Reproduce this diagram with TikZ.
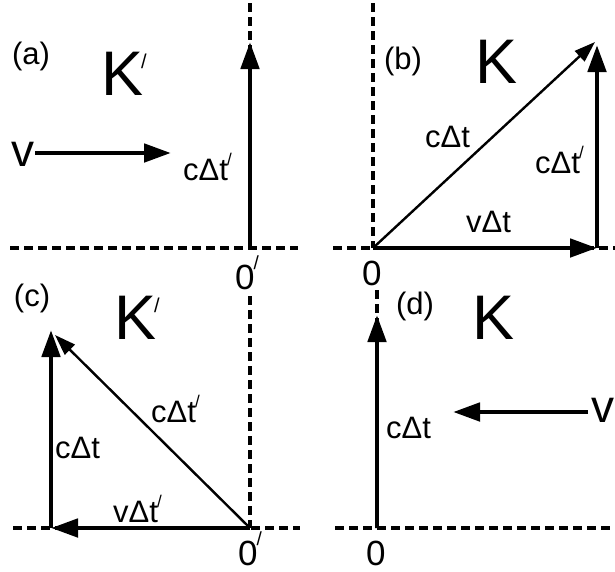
\documentclass[tikz,border=0pt]{standalone}
\usepackage{fontspec}
\setmainfont{Liberation Sans}
\usetikzlibrary{arrows.meta}
\newcommand{\lpr}{\kern-1pt\raisebox{15pt}{\fontsize{17}{17}\selectfont /}}
\newcommand{\zpr}{\kern-1pt\raisebox{20pt}{\fontsize{19}{19}\selectfont /}}
\newcommand{\kpr}{\rlap{\kern-3pt\raisebox{27pt}{\fontsize{20}{20}\selectfont /}}}
\begin{document}
\begin{tikzpicture}[x=1pt,y=-1pt,
  axis/.style={line width=3.6pt,dash pattern=on 9pt off 5pt},
  thick arrow/.style={line width=4.8pt,-{Triangle[length=27pt,width=18pt]}},
  thin arrow/.style={line width=2.4pt,-{Triangle[length=21pt,width=14pt]}},
  lbl/.style={inner sep=0pt,anchor=base west,font=\fontsize{31}{33}\selectfont},
  tag/.style={inner sep=0pt,font=\fontsize{31}{34}\selectfont},
  zero/.style={inner sep=0pt,anchor=base west,font=\fontsize{35}{38}\selectfont},
  frame/.style={inner sep=0pt,font=\fontsize{63}{66}\selectfont},
  vel/.style={inner sep=0pt,font=\fontsize{46}{50}\selectfont}]
\useasboundingbox (0,0) rectangle (615,571);
% ---------- (a)
\coordinate (aO) at (250,248);
\coordinate (aT) at (250,3);
\coordinate (aL) at (10,248);
\coordinate (aR) at (298,248);
\coordinate (aTip) at (250,42);
\draw[axis] (aL) -- (aR);
\draw[axis] (aT) -- (aO);
\draw[thick arrow] (aO) -- (aTip);
\node[tag] (atag) at (31,56) {(a)};
\node[frame] (aK) at (123,74) {K\kpr};
\node[vel] (av) at (22.5,154) {v};
\coordinate (avs) at (35,153);
\coordinate (ave) at (171,153);
\draw[thick arrow] (avs) -- (ave);
\node[lbl] (acdt) at (183,180) {cΔt\lpr};
\node[zero] (a0) at (235,289) {0\zpr};
% ---------- (b)
\coordinate (bO) at (373,248);
\coordinate (bT) at (373,3);
\coordinate (bL) at (333,248);
\coordinate (bR) at (615,248);
\coordinate (bX) at (597,248);
\coordinate (bY) at (597,45);
\coordinate (bD) at (595,42);
\draw[axis] (bL) -- (bR);
\draw[axis] (bT) -- (bO);
\draw[thick arrow] (bO) -- (bX);
\draw[thick arrow] (bX) -- (bY);
\draw[thin arrow] (bO) -- (bD);
\node[tag] (btag) at (403,61) {(b)};
\node[frame] (bK) at (497,62) {K};
\node[lbl] (bcdt) at (425,147) {cΔt};
\node[lbl] (bcdtp) at (535,173) {cΔt\lpr};
\node[lbl] (bvdt) at (466,232) {vΔt};
\node[zero] (b0) at (362,285) {0};
% ---------- (c)
\coordinate (cO) at (250,528);
\coordinate (cT) at (250,296);
\coordinate (cL) at (13,528);
\coordinate (cR) at (300,528);
\coordinate (cX) at (51,528);
\coordinate (cY) at (51,330);
\coordinate (cD) at (55,335);
\draw[axis] (cL) -- (cR);
\draw[axis] (cT) -- (cO);
\draw[thick arrow] (cO) -- (cX);
\draw[thick arrow] (cX) -- (cY);
\draw[thin arrow] (cO) -- (cD);
\node[tag] (ctag) at (32,298) {(c)};
\node[frame] (cK) at (136,318) {K\kpr};
\node[lbl] (ccdtp) at (151,422) {cΔt\lpr};
\node[lbl] (ccdt) at (55,458) {cΔt};
\node[lbl] (cvdt) at (113,522) {vΔt\lpr};
\node[zero] (c0) at (238,565) {0\zpr};
% ---------- (d)
\coordinate (dO) at (377,528);
\coordinate (dT) at (377,290);
\coordinate (dL) at (335,528);
\coordinate (dR) at (615,528);
\coordinate (dTip) at (377,315);
\draw[axis] (dL) -- (dR);
\draw[axis] (dT) -- (dO);
\draw[thick arrow] (dO) -- (dTip);
\node[tag] (dtag) at (415,306) {(d)};
\node[frame] (dK) at (494,318) {K};
\node[vel] (dv) at (603,410.5) {v};
\coordinate (dvs) at (588,412);
\coordinate (dve) at (453,412);
\draw[thick arrow] (dvs) -- (dve);
\node[lbl] (dcdt) at (386,438) {cΔt};
\node[zero] (d0) at (366,565) {0};
\end{tikzpicture}
\end{document}
